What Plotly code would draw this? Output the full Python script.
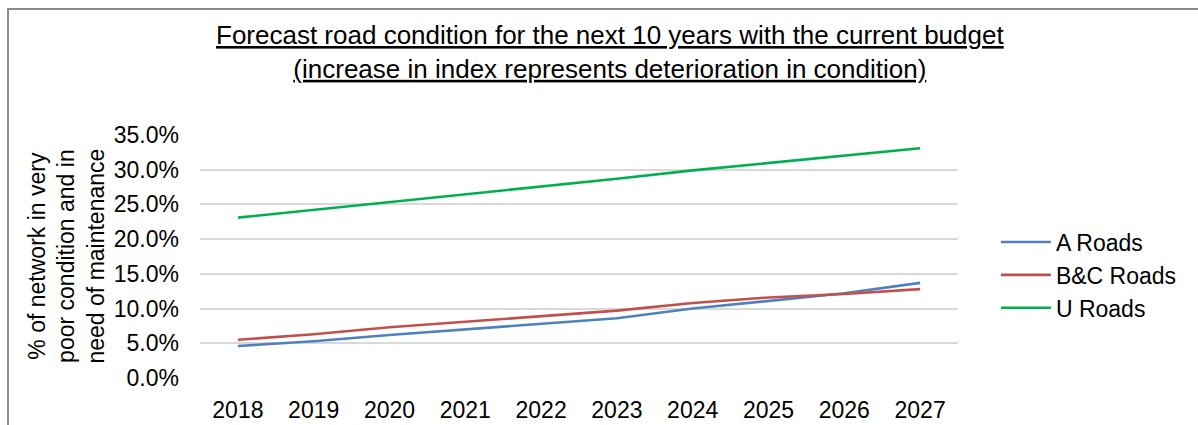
import plotly.graph_objects as go

# Forecast share of network in very poor condition, by road class
years = ["2018", "2019", "2020", "2021", "2022", "2023", "2024", "2025", "2026", "2027"]
a_roads = [0.046, 0.053, 0.062, 0.070, 0.078, 0.086, 0.100, 0.111, 0.122, 0.137]
bc_roads = [0.055, 0.063, 0.073, 0.081, 0.089, 0.097, 0.108, 0.116, 0.121, 0.128]
u_roads = [0.231, 0.242, 0.253, 0.264, 0.276, 0.287, 0.299, 0.310, 0.320, 0.331]

series_names = ["A Roads", "B&C Roads", "U Roads"]
series_colors = ["#4F81BD", "#C0504D", "#00B050"]
y_ticks = [0.0, 0.05, 0.10, 0.15, 0.20, 0.25, 0.30, 0.35]

FONT = "Liberation Sans, Arial, sans-serif"

fig = go.Figure()
for name, vals, col in zip(series_names, [a_roads, bc_roads, u_roads], series_colors):
    fig.add_trace(go.Scatter(
        x=years, y=vals, name=name, mode="lines",
        line=dict(color=col, width=2.6),
    ))

fig.update_layout(
    width=1198, height=425,
    margin=dict(l=200, r=240, t=135, b=47, autoexpand=False),
    paper_bgcolor="white", plot_bgcolor="white",
    font=dict(family=FONT, size=23, color="#000000"),
    showlegend=True,
    legend=dict(
        x=1.050, y=(378 - 275) / 243, xanchor="left", yanchor="middle",
        font=dict(size=23), tracegroupgap=0, itemwidth=50,
        bgcolor="rgba(0,0,0,0)",
    ),
)

fig.update_xaxes(
    type="category", range=[-0.5, 9.5], automargin=False,
    showgrid=False, showline=False, zeroline=False, ticks="",
    tickfont=dict(size=23), ticklabelstandoff=16,
)
fig.update_yaxes(
    range=[0, 0.35], tickvals=y_ticks, tickformat=".1%", automargin=False,
    showgrid=True, gridcolor="#D9D9D9", gridwidth=1.5,
    showline=False, zeroline=False, ticks="",
    tickfont=dict(size=23), ticklabelstandoff=20,
)

# Underlined two-line heading
fig.add_annotation(
    text="<u>Forecast road condition for the next 10 years with the current budget</u><br>"
         "<u>(increase in index represents deterioration in condition)</u>",
    xref="paper", yref="paper", x=(610 - 200) / 758, y=1 + (135 - 52) / 243,
    xanchor="center", yanchor="middle", showarrow=False,
    font=dict(family=FONT, size=26, color="#000000"),
)

# Rotated axis caption
fig.add_annotation(
    text="% of network in very<br>poor condition and in<br>need of maintenance",
    xref="paper", yref="paper", x=(66 - 200) / 758, y=0.5,
    xanchor="center", yanchor="middle", textangle=-90, showarrow=False,
    font=dict(family=FONT, size=23, color="#000000"),
)

# Chart frame
fig.add_shape(
    type="rect", xref="paper", yref="paper",
    x0=(8 - 200) / 758, x1=1.4, y0=-0.5, y1=1 + (135 - 9) / 243,
    line=dict(color="#8C8C8C", width=2), fillcolor="rgba(0,0,0,0)", layer="below",
)

fig.write_html("out.html")
